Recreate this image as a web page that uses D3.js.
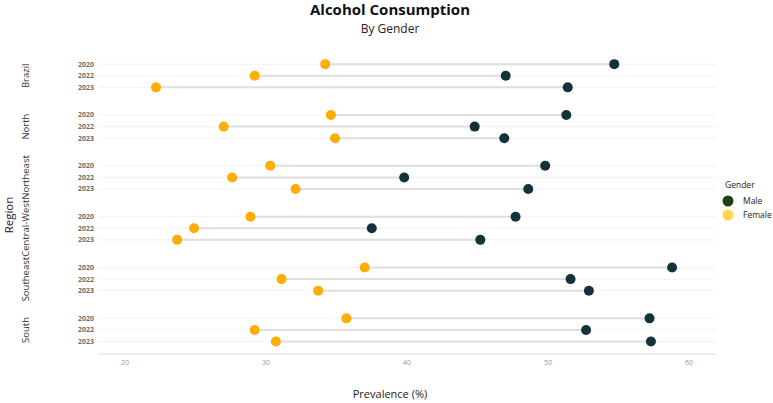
<!DOCTYPE html>
<html>
<head>
<meta charset="utf-8">
<script src="https://cdn.jsdelivr.net/npm/d3@7"></script>
<style>
  body { margin: 0; background: #fff; }
  svg { font-family: "Open Sans", sans-serif; }
</style>
</head>
<body>
<div id="chart"></div>
<script>
// data
let regions = ['Brazil', 'North', 'Northeast', 'Central-West', 'Southeast', 'South'];
let years = ['2020', '2022', '2023'];
let maleValues = [
    [54.7, 47.0, 51.4],
    [51.3, 44.8, 46.9],
    [49.8, 39.8, 48.6],
    [47.7, 37.5, 45.2],
    [58.8, 51.6, 52.9],
    [57.2, 52.7, 57.3]
];
let femaleValues = [
    [34.2, 29.2, 22.2],
    [34.6, 27.0, 34.9],
    [30.3, 27.6, 32.1],
    [28.9, 24.9, 23.7],
    [37.0, 31.1, 33.7],
    [35.7, 29.2, 30.7]
];
let xTicks = [20, 30, 40, 50, 60];
let genders = ['Male', 'Female'];

let W = 773, H = 403;
let svg = d3.select('#chart').append('svg').attr('width', W).attr('height', H);

//扁平化数据
let rows = [];
regions.forEach(function (r, i) {
    years.forEach(function (y, j) {
        rows.push({region: r, year: y, male: maleValues[i][j], female: femaleValues[i][j]});
    });
});

let panelLeft = 98, panelRight = 716;
let x = d3.scaleLinear().domain([20, 60]).range([125, 689]);
let panel = d3.scaleBand().domain(regions).range([57.2, 348.5]).paddingInner(0.27);
let yr = d3.scalePoint().domain(years).range([0, panel.bandwidth()]).padding(0.6);
let yPos = function (d) { return panel(d.region) + yr(d.year); };

//title
svg.append('text').attr('x', 390).attr('y', 15).attr('text-anchor', 'middle')
    .style('font-size', '15px').style('font-weight', 'bold').style('fill', '#111')
    .text('Alcohol Consumption');
svg.append('text').attr('x', 390).attr('y', 33).attr('text-anchor', 'middle')
    .style('font-size', '12px').style('fill', '#222')
    .text('By Gender');

//panels
let g = svg.append('g');
regions.forEach(function (r) {
    let top = panel(r);
    //网格线
    g.selectAll(null).data(years).enter().append('line')
        .attr('x1', panelLeft).attr('x2', panelRight)
        .attr('y1', function (y) { return top + yr(y); })
        .attr('y2', function (y) { return top + yr(y); })
        .attr('stroke', '#f2f2f2').attr('stroke-width', 1);
    //year labels
    g.selectAll(null).data(years).enter().append('text')
        .attr('x', 94).attr('y', function (y) { return top + yr(y); })
        .attr('dy', '0.35em').attr('text-anchor', 'end')
        .style('font-size', '7px').style('font-weight', 'bold').style('fill', '#6e6e6e')
        .text(function (y) { return y; });
    //strip label
    g.append('text')
        .attr('transform', 'translate(29,' + (top + panel.bandwidth() / 2) + ') rotate(-90)')
        .attr('text-anchor', 'middle')
        .style('font-size', '9.5px').style('fill', '#333')
        .text(r);
});

//segments
g.selectAll('.seg').data(rows).enter().append('line')
    .attr('class', 'seg')
    .attr('x1', function (d) { return x(d.female); })
    .attr('x2', function (d) { return x(d.male); })
    .attr('y1', yPos).attr('y2', yPos)
    .attr('stroke', '#dedede').attr('stroke-width', 2);

//points
g.selectAll('.f').data(rows).enter().append('circle')
    .attr('class', 'f')
    .attr('cx', function (d) { return x(d.female); })
    .attr('cy', yPos).attr('r', 5)
    .style('fill', '#ffad00');
g.selectAll('.m').data(rows).enter().append('circle')
    .attr('class', 'm')
    .attr('cx', function (d) { return x(d.male); })
    .attr('cy', yPos).attr('r', 5)
    .style('fill', '#13333b');

//x axis
let axisY = 354;
svg.append('line').attr('x1', panelLeft).attr('x2', panelRight)
    .attr('y1', axisY).attr('y2', axisY)
    .attr('stroke', '#dcdcdc').attr('stroke-width', 1);
svg.selectAll('.xt').data(xTicks).enter().append('text')
    .attr('class', 'xt')
    .attr('x', function (d) { return x(d); }).attr('y', 365)
    .attr('text-anchor', 'middle')
    .style('font-size', '7px').style('fill', '#999')
    .text(function (d) { return d; });
svg.append('text').attr('x', 390).attr('y', 398).attr('text-anchor', 'middle')
    .style('font-size', '11px').style('fill', '#222')
    .text('Prevalence (%)');
svg.append('text').attr('transform', 'translate(13,215) rotate(-90)')
    .attr('text-anchor', 'middle')
    .style('font-size', '11.5px').style('fill', '#222')
    .text('Region');

//legend
let legendColor = d3.scaleOrdinal().domain(genders).range(['#223f10', '#ffd84f']);
let lg = svg.append('g').attr('transform', 'translate(725,0)');
lg.append('text').attr('x', 0).attr('y', 188)
    .style('font-size', '8.5px').style('fill', '#222').text('Gender');
lg.selectAll('circle').data(genders).enter().append('circle')
    .attr('cx', 3).attr('cy', function (d, i) { return 201 + i * 14; })
    .attr('r', 5.5).style('fill', function (d) { return legendColor(d); });
lg.selectAll('.lt').data(genders).enter().append('text')
    .attr('class', 'lt')
    .attr('x', 18).attr('y', function (d, i) { return 201 + i * 14; })
    .attr('dy', '0.35em')
    .style('font-size', '8.5px').style('fill', '#222')
    .text(function (d) { return d; });
</script>
</body>
</html>
